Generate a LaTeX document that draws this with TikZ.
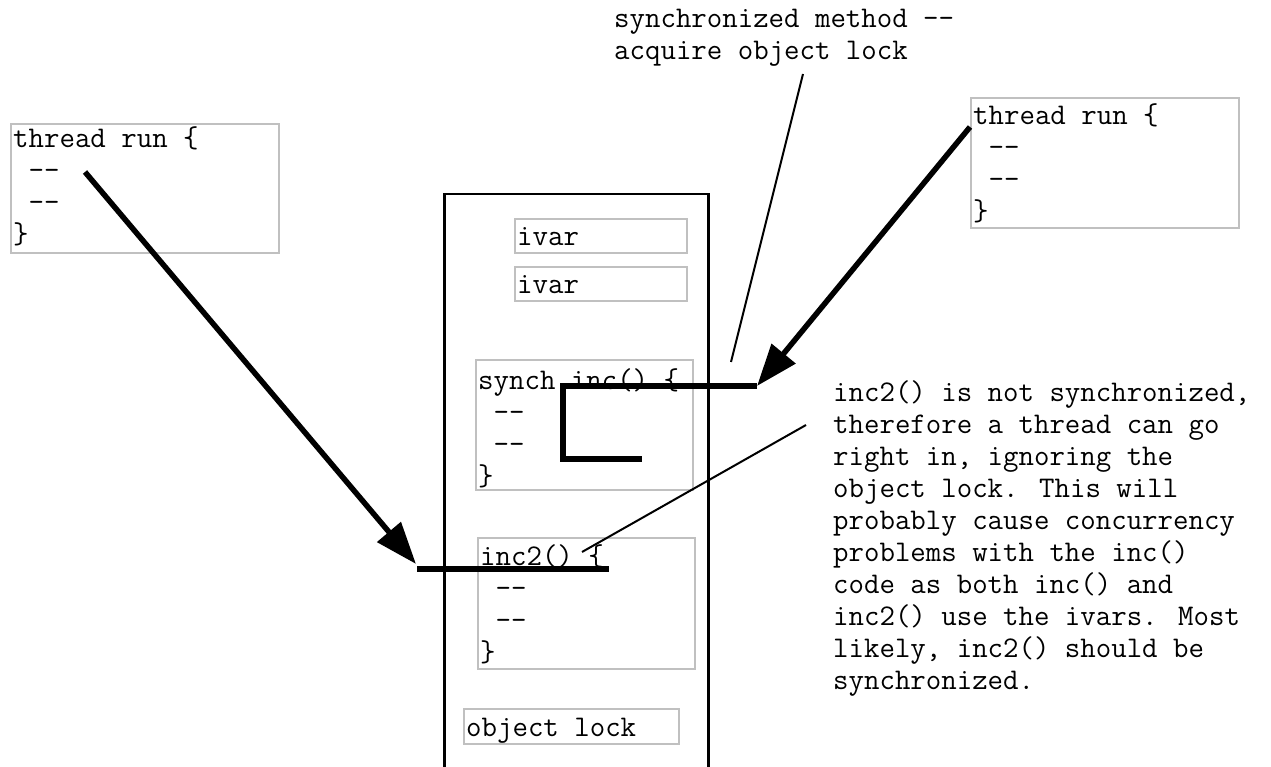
\documentclass[tikz,border=0pt]{standalone}
\usepackage{fontspec}
\usetikzlibrary{arrows.meta}
\definecolor{boxgray}{RGB}{192,192,192}
\newcommand{\fl}{\rule{0pt}{22pt}}
\newcommand{\ind}{\phantom{x}}
\begin{document}
\begin{tikzpicture}[x=1pt,y=-1pt,
  every node/.style={font=\fontsize{30}{32}\selectfont\ttfamily},
  codebox/.style={draw=boxgray, line width=2pt, anchor=north west, inner sep=0pt},
  codetext/.style={anchor=north west, inner sep=0pt, align=left},
  heavy/.style={line width=5.5pt},
  tipped/.style={-{Triangle[length=42pt,width=30pt]}},
  thin line/.style={line width=2pt}]
\useasboundingbox (0,0) rectangle (1271,767);
\fill[white] (0,0) rectangle (1271,767);
\clip (0,0) rectangle (1271,767);

% object box (open at the bottom)
\node[draw, line width=2.5pt, anchor=north west, inner sep=0pt,
  minimum width=264pt, minimum height=620pt] (obj) at (443,193) {};

% thread boxes
\node[codebox, minimum width=268pt, minimum height=129pt] (t1) at (10,123) {};
\node[codetext] (t1txt) at (13,125) {\fl thread run \{\\\ind-{}-\\\ind-{}-\\\}};
\node[codebox, minimum width=268pt, minimum height=130pt] (t2) at (970,97) {};
\node[codetext] (t2txt) at (973,102) {\fl thread run \{\\\ind-{}-\\\ind-{}-\\\}};

% ivars
\node[codebox, minimum width=172pt, minimum height=34pt] (iv1) at (514,218) {};
\node[codetext] (iv1txt) at (517,223) {\fl ivar};
\node[codebox, minimum width=172pt, minimum height=34pt] (iv2) at (514,266) {};
\node[codetext] (iv2txt) at (517,271) {\fl ivar};

% methods
\node[codebox, minimum width=217pt, minimum height=130pt] (inc) at (475,359) {};
\node[codetext] (inctxt) at (478,367) {\fl synch inc() \{\\\ind-{}-\\\ind-{}-\\\}};
\node[codebox, minimum width=217pt, minimum height=131pt] (inctwo) at (477,537) {};
\node[codetext] (inctwotxt) at (480,543) {\fl inc2() \{\\\ind-{}-\\\ind-{}-\\\}};

% object lock
\node[codebox, minimum width=215pt, minimum height=35pt] (lock) at (463,708) {};
\node[codetext] (locktxt) at (466,714) {\fl object lock};

% labels
\node[codetext] (lbl) at (614,5) {\fl synchronized method -{}-\\acquire object lock};
\node[codetext] (note) at (833,379) {\fl inc2() is not synchronized,\\therefore a thread can go\\right in, ignoring the\\object lock. This will\\probably cause concurrency\\problems with the inc()\\code as both inc() and\\inc2() use the ivars. Most\\likely, inc2() should be\\synchronized.};

% connector coordinates
\coordinate (a1s) at (85,172);
\coordinate (a1e) at (416,564);
\coordinate (h1s) at (417,569);
\coordinate (h1e) at (609,569);
\coordinate (a2s) at (970,127);
\coordinate (a2e) at (757,386);
\coordinate (p1) at (563,386);
\coordinate (p2) at (563,459);
\coordinate (p3) at (642,459);
\coordinate (l1s) at (803,74);
\coordinate (l1e) at (731,362);
\coordinate (l2s) at (806,425);
\coordinate (l2e) at (582,552);

% thread paths
\draw[heavy, tipped] (a1s) -- (a1e);
\draw[heavy] (h1s) -- (h1e);
\draw[heavy, tipped] (a2s) -- (a2e);
\draw[heavy] (a2e) -- (p1) -- (p2) -- (p3);

% annotation lines
\draw[thin line] (l1s) -- (l1e);
\draw[thin line] (l2s) -- (l2e);
\end{tikzpicture}
\end{document}
